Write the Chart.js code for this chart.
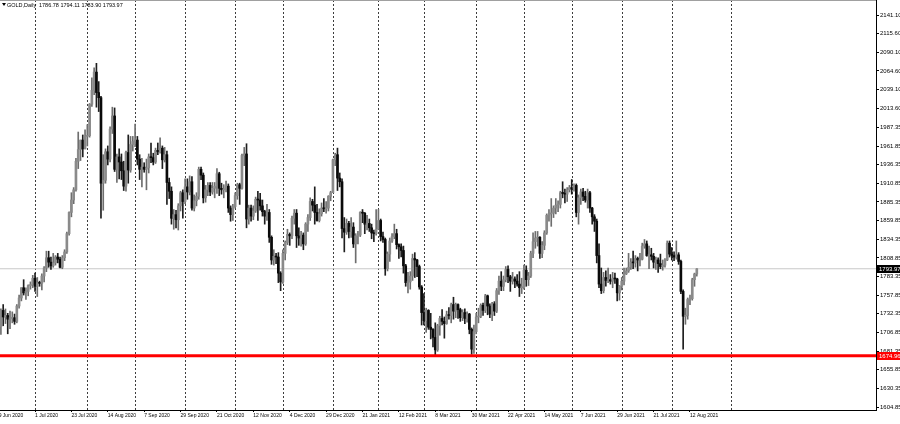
<!DOCTYPE html>
<html>
<head>
<meta charset="utf-8">
<title>GOLD,Daily</title>
<script src="https://cdn.jsdelivr.net/npm/chart.js@4.4.0/dist/chart.umd.min.js"></script>
<style>
  html, body { margin: 0; padding: 0; background: #fff; }
  #wrap { width: 900px; height: 424px; }
</style>
</head>
<body>
<div id="wrap"><canvas id="goldChart" width="900" height="424"></canvas></div>
<script>
// header of the chart window
const symbolTitle = 'GOLD,Daily';
const lastQuote = [1786.78, 1794.11, 1783.90, 1793.97];

// daily bars, 8 Jun 2020 .. 17 Aug 2021 (index 0 = 8 Jun 2020)
const opens = [
  1684,1698,1715,1737,1728,1730,1725,1726,1727,1722,
  1743,1754,1768,1761,1763,1771,1772,1781,1770,1775,
  1774,1784,1795,1809,1803,1798,1802,1810,1807,1796,
  1809,1817,1842,1871,1888,1902,1941,1957,1970,1958,
  1975,1976,2019,2038,2063,2035,2028,1911,1915,1954,
  1944,1985,2003,1930,1947,1940,1928,1907,1953,1929,
  1964,1968,1970,1944,1930,1933,1930,1932,1947,1946,
  1940,1956,1954,1959,1943,1950,1912,1900,1863,1868,
  1861,1880,1898,1886,1906,1899,1913,1877,1887,1893,
  1930,1922,1891,1902,1908,1899,1904,1907,1924,1904,
  1902,1903,1907,1877,1868,1879,1894,1909,1904,1949,
  1951,1862,1877,1866,1873,1889,1888,1880,1872,1866,
  1871,1837,1806,1811,1810,1788,1776,1815,1830,1841,
  1839,1863,1870,1839,1836,1840,1828,1855,1864,1886,
  1881,1871,1860,1869,1877,1876,1877,1893,1898,1943,
  1950,1918,1913,1849,1844,1856,1845,1851,1828,1839,
  1840,1871,1870,1855,1856,1850,1843,1842,1848,1860,
  1838,1834,1794,1814,1832,1838,1842,1827,1824,1819,
  1798,1775,1776,1784,1808,1806,1797,1769,1734,1723,
  1737,1714,1711,1700,1683,1716,1726,1722,1719,1731,
  1730,1745,1736,1745,1738,1727,1734,1726,1732,1711,
  1684,1708,1728,1729,1744,1737,1757,1743,1732,1746,
  1736,1764,1777,1770,1779,1793,1783,1777,1780,1777,
  1773,1768,1769,1792,1779,1784,1815,1831,1836,1837,
  1815,1826,1843,1867,1869,1870,1877,1881,1882,1898,
  1897,1896,1902,1905,1903,1908,1871,1891,1899,1893,
  1888,1898,1877,1865,1859,1812,1773,1764,1782,1778,
  1779,1777,1781,1780,1761,1770,1777,1787,1791,1796,
  1803,1802,1808,1806,1807,1825,1828,1812,1813,1811,
  1803,1806,1801,1797,1799,1806,1829,1814,1812,1810,
  1813,1804,1763,1729,1730,1752,1753,1779,1786.78
];
const highs = [
  1704,1721,1739,1745,1739,1733,1736,1735,1732,1745,
  1758,1768,1779,1768,1772,1776,1785,1788,1782,1777,
  1787,1797,1818,1818,1810,1815,1812,1815,1810,1812,
  1820,1844,1872,1898,1905,1945,1981,1970,1977,1984,
  1991,2020,2055,2069,2075,2050,2030,1950,1958,1962,
  1988,2015,2014,1951,1958,1951,1941,1955,1977,1975,
  1975,1992,1975,1950,1945,1939,1944,1951,1966,1952,
  1959,1966,1973,1962,1960,1955,1918,1906,1875,1874,
  1883,1900,1902,1917,1917,1921,1920,1895,1898,1933,
  1933,1925,1908,1912,1912,1912,1912,1931,1926,1911,
  1909,1914,1910,1880,1882,1898,1911,1911,1951,1960,
  1965,1881,1881,1880,1892,1900,1897,1888,1874,1882,
  1875,1839,1820,1815,1816,1790,1820,1832,1848,1843,
  1866,1875,1875,1850,1845,1843,1857,1868,1891,1889,
  1906,1882,1876,1884,1890,1886,1894,1900,1944,1952,
  1959,1925,1917,1864,1862,1859,1864,1857,1842,1845,
  1872,1875,1871,1867,1862,1855,1847,1875,1875,1862,
  1844,1836,1817,1836,1842,1855,1848,1828,1828,1825,
  1800,1789,1790,1814,1816,1807,1799,1771,1760,1740,
  1738,1733,1712,1720,1718,1729,1738,1728,1736,1741,
  1747,1755,1747,1746,1740,1738,1739,1735,1733,1713,
  1717,1733,1740,1746,1747,1759,1758,1746,1748,1749,
  1767,1784,1790,1784,1797,1798,1785,1789,1783,1786,
  1790,1781,1799,1798,1789,1818,1843,1845,1845,1838,
  1831,1846,1869,1875,1890,1880,1890,1887,1900,1913,
  1903,1905,1908,1916,1910,1910,1895,1903,1904,1900,
  1903,1900,1878,1868,1862,1828,1795,1789,1791,1795,
  1786,1789,1788,1781,1771,1782,1795,1795,1815,1808,
  1818,1812,1810,1815,1829,1834,1832,1825,1822,1815,
  1810,1809,1814,1806,1808,1832,1832,1823,1817,1832,
  1816,1806,1765,1740,1754,1758,1781,1788,1794.11
];
const lows = [
  1670,1694,1704,1716,1719,1705,1712,1720,1718,1720,
  1740,1750,1758,1752,1757,1766,1768,1763,1756,1770,
  1765,1776,1790,1796,1793,1796,1799,1802,1795,1794,
  1805,1815,1840,1865,1883,1900,1931,1942,1947,1958,
  1962,1974,2016,2032,2015,2009,1863,1874,1911,1936,
  1940,1979,1927,1912,1917,1916,1901,1900,1911,1926,
  1955,1961,1936,1916,1906,1926,1902,1925,1939,1936,
  1938,1950,1952,1931,1940,1882,1890,1855,1848,1850,
  1847,1873,1863,1883,1889,1895,1874,1873,1880,1889,
  1916,1884,1885,1894,1894,1896,1891,1897,1894,1896,
  1891,1899,1871,1859,1860,1877,1889,1882,1903,1935,
  1850,1855,1859,1861,1871,1860,1874,1866,1855,1860,
  1830,1800,1799,1801,1775,1764,1774,1806,1827,1826,
  1835,1855,1823,1826,1825,1820,1826,1845,1860,1873,
  1855,1859,1858,1866,1872,1870,1873,1887,1898,1935,
  1901,1906,1836,1817,1841,1836,1837,1823,1802,1828,
  1838,1857,1842,1847,1845,1835,1831,1840,1848,1832,
  1830,1785,1791,1804,1830,1835,1821,1808,1810,1788,
  1770,1761,1766,1778,1782,1783,1766,1717,1717,1707,
  1711,1698,1687,1676,1681,1703,1717,1699,1718,1725,
  1720,1725,1727,1726,1722,1723,1719,1721,1705,1677,
  1678,1705,1720,1727,1730,1734,1731,1727,1723,1730,
  1734,1759,1764,1764,1776,1775,1763,1773,1768,1770,
  1756,1760,1766,1770,1771,1782,1809,1822,1825,1808,
  1809,1820,1841,1859,1852,1864,1869,1872,1877,1891,
  1884,1886,1899,1896,1900,1865,1855,1882,1887,1885,
  1877,1871,1855,1845,1802,1768,1760,1761,1770,1775,
  1773,1768,1774,1750,1751,1765,1772,1786,1789,1793,
  1794,1796,1791,1798,1806,1822,1811,1794,1806,1795,
  1793,1789,1794,1792,1796,1805,1810,1806,1805,1807,
  1800,1760,1684,1718,1725,1745,1751,1770,1783.90
];
const closes = [
  1698,1715,1737,1728,1730,1725,1727,1727,1722,1743,
  1754,1768,1761,1763,1771,1772,1781,1770,1775,1774,
  1784,1795,1809,1803,1798,1802,1810,1807,1796,1809,
  1817,1842,1871,1888,1902,1941,1957,1970,1958,1975,
  1976,2019,2038,2063,2035,2028,1911,1915,1954,1944,
  1985,2003,1930,1947,1940,1928,1907,1953,1929,1964,
  1968,1970,1944,1930,1933,1930,1932,1947,1946,1940,
  1956,1954,1959,1943,1950,1912,1900,1863,1868,1861,
  1880,1898,1886,1906,1899,1913,1877,1887,1893,1930,
  1922,1891,1902,1908,1899,1904,1907,1924,1904,1902,
  1903,1907,1877,1868,1879,1894,1909,1904,1949,1951,
  1862,1877,1866,1873,1889,1888,1880,1872,1866,1871,
  1837,1806,1811,1810,1788,1776,1815,1830,1841,1839,
  1863,1870,1839,1836,1840,1828,1855,1864,1886,1881,
  1871,1860,1869,1877,1876,1877,1893,1898,1943,1950,
  1918,1913,1849,1844,1856,1845,1851,1828,1839,1840,
  1871,1870,1855,1856,1850,1843,1842,1848,1860,1838,
  1834,1794,1814,1832,1838,1842,1827,1824,1819,1798,
  1775,1776,1784,1808,1806,1797,1769,1734,1723,1737,
  1714,1711,1700,1683,1716,1726,1722,1719,1731,1730,
  1745,1736,1745,1738,1727,1734,1726,1732,1711,1684,
  1708,1728,1729,1744,1737,1757,1743,1732,1746,1736,
  1764,1777,1770,1779,1793,1783,1777,1780,1777,1773,
  1768,1769,1792,1779,1784,1815,1831,1836,1837,1815,
  1826,1843,1867,1869,1870,1877,1881,1882,1898,1897,
  1896,1902,1905,1903,1908,1871,1891,1899,1893,1888,
  1898,1877,1865,1859,1812,1773,1764,1782,1778,1779,
  1777,1781,1780,1761,1770,1777,1787,1791,1796,1803,
  1802,1808,1806,1807,1825,1828,1812,1813,1811,1803,
  1806,1801,1797,1799,1806,1829,1814,1812,1810,1813,
  1804,1763,1729,1730,1752,1753,1779,1786.78,1793.97
];

// time axis labels (every 16 bars) and first bar of each month
const dateTickIdx = [1, 17, 33, 49, 65, 81, 97, 113, 129, 145, 161, 177, 193, 209, 225, 241, 257, 273, 289, 305];
const dateTickText = ['9 Jun 2020', '1 Jul 2020', '23 Jul 2020', '14 Aug 2020', '7 Sep 2020', '29 Sep 2020',
  '21 Oct 2020', '12 Nov 2020', '4 Dec 2020', '29 Dec 2020', '21 Jan 2021', '12 Feb 2021', '8 Mar 2021',
  '30 Mar 2021', '22 Apr 2021', '14 May 2021', '7 Jun 2021', '29 Jun 2021', '21 Jul 2021', '12 Aug 2021'];
const monthStartIdx = [17, 40, 61, 83, 105, 126, 148, 168, 188, 211, 232, 253, 275, 297, 323];

// price axis labels
const priceTicks = [2141.10, 2115.60, 2090.10, 2064.60, 2039.10, 2013.60, 1987.35, 1961.85, 1936.35, 1910.85, 1885.35,
  1859.85, 1834.35, 1808.85, 1783.35, 1757.85, 1732.35, 1706.85, 1681.35, 1655.85, 1630.35, 1604.85];

const bidPrice = 1793.97;
const levelPrice = 1674.96;

// visible window (bar index / price)
const xMin = 1.6, xMax = 386.8;
const yMin = 1600.75, yMax = 2161.62;

Chart.defaults.font.family = '"Liberation Sans", Arial, sans-serif';

const isUp = closes.map((c, i) => c >= opens[i]);
const bodyData = closes.map((c, i) => ({ x: i, y: [opens[i], c] }));
const wickData = closes.map((c, i) => ({ x: i, y: [lows[i], highs[i]] }));

const mt4Overlay = {
  id: 'mt4Overlay',
  beforeDatasetsDraw(chart) {
    const { ctx, chartArea: a, scales: { x } } = chart;
    ctx.save();
    ctx.strokeStyle = '#3c3c3c';
    ctx.lineWidth = 1;
    ctx.setLineDash([2, 2]);
    monthStartIdx.forEach(i => {
      const px = Math.round(x.getPixelForValue(i)) + 0.5;
      ctx.beginPath();
      ctx.moveTo(px, a.top);
      ctx.lineTo(px, a.bottom);
      ctx.stroke();
    });
    ctx.restore();
  },
  afterDraw(chart) {
    const { ctx, chartArea: a, scales: { y } } = chart;
    ctx.save();
    // top frame
    ctx.strokeStyle = '#a0a0a0';
    ctx.beginPath();
    ctx.moveTo(0, 0.5);
    ctx.lineTo(a.right, 0.5);
    ctx.stroke();

    // price tags on the axis
    const tag = (price, bg) => {
      const py = Math.round(y.getPixelForValue(price));
      ctx.fillStyle = bg;
      ctx.fillRect(a.right + 1, py - 4, chart.width - a.right - 1, 8);
      ctx.fillStyle = '#fff';
      ctx.font = '6px "Liberation Sans"';
      ctx.textBaseline = 'middle';
      ctx.textAlign = 'left';
      ctx.fillText(price.toFixed(2), a.right + 3, py);
    };
    tag(bidPrice, '#000');
    tag(levelPrice, '#ff0000');

    // symbol header
    ctx.fillStyle = '#000';
    ctx.beginPath();
    ctx.moveTo(2, 3);
    ctx.lineTo(6, 3);
    ctx.lineTo(4, 6);
    ctx.closePath();
    ctx.fill();
    ctx.font = '5.5px "Liberation Sans"';
    ctx.textBaseline = 'middle';
    ctx.fillText(symbolTitle, 7, 5);
    ctx.fillText(lastQuote.map(v => v.toFixed(2)).join(' '), 39, 5);
    ctx.restore();
  }
};

new Chart(document.getElementById('goldChart'), {
  type: 'bar',
  data: {
    datasets: [
      {
        type: 'line',
        data: [{ x: xMin, y: levelPrice }, { x: xMax, y: levelPrice }],
        borderColor: '#ff0000',
        borderWidth: 3,
        pointRadius: 0,
        order: 0
      },
      {
        data: bodyData,
        backgroundColor: isUp.map(u => u ? '#8a8a8a' : '#0a0a0a'),
        barThickness: 2,
        minBarLength: 1,
        grouped: false,
        order: 1
      },
      {
        data: wickData,
        backgroundColor: isUp.map(u => u ? '#6e6e6e' : '#1e1e1e'),
        barThickness: 1,
        minBarLength: 1,
        grouped: false,
        order: 2
      },
      {
        type: 'line',
        data: [{ x: xMin, y: bidPrice }, { x: xMax, y: bidPrice }],
        borderColor: '#c8c8c8',
        borderWidth: 1,
        pointRadius: 0,
        order: 3
      }
    ]
  },
  options: {
    responsive: false,
    animation: false,
    devicePixelRatio: 1,
    layout: { padding: 0 },
    plugins: { legend: { display: false }, tooltip: { enabled: false } },
    scales: {
      x: {
        type: 'linear',
        position: 'bottom',
        min: xMin,
        max: xMax,
        bounds: 'data',
        offset: false,
        afterBuildTicks: s => { s.ticks = dateTickIdx.map(v => ({ value: v })); },
        afterFit: s => { s.height = 14; s.paddingLeft = 0; s.paddingRight = 0; },
        ticks: {
          autoSkip: false,
          maxRotation: 0,
          align: 'start',
          padding: 1,
          color: '#000',
          font: { size: 5 },
          callback: (v, i) => dateTickText[i]
        },
        grid: { drawOnChartArea: false, drawTicks: true, tickLength: 2, color: '#000', offset: false },
        border: { display: true, color: '#000', width: 1 }
      },
      y: {
        position: 'right',
        min: yMin,
        max: yMax,
        bounds: 'data',
        afterBuildTicks: s => { s.ticks = priceTicks.map(v => ({ value: v })); },
        afterFit: s => { s.width = 24; s.paddingTop = 0; s.paddingBottom = 0; },
        ticks: {
          padding: 1,
          color: '#000',
          font: { size: 6 },
          callback: v => v.toFixed(2)
        },
        grid: { drawOnChartArea: false, drawTicks: true, tickLength: 3, color: '#000' },
        border: { display: true, color: '#000', width: 1 }
      }
    }
  },
  plugins: [mt4Overlay]
});
</script>
</body>
</html>
